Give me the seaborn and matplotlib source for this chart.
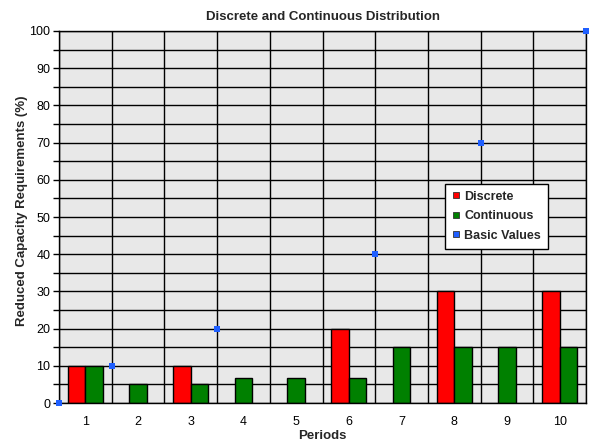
import numpy as np
import pandas as pd
import matplotlib
matplotlib.use("Agg")
from matplotlib import pyplot as plt
from matplotlib.lines import Line2D
import seaborn as sns

periods = [1, 2, 3, 4, 5, 6, 7, 8, 9, 10]
discrete = [10, 0, 10, 0, 0, 20, 0, 30, 0, 30]
continuous = [10, 5, 5, 6.67, 6.67, 6.67, 15, 15, 15, 15]
basic_x = [0.5, 1.5, 3.5, 6.5, 8.5, 10.5]
basic_y = [0, 10, 20, 40, 70, 100]

# zero bars are left out, the remaining bars of a period sit side by side around its centre
rows = []
for p, d, c in zip(periods, discrete, continuous):
    present = [(s, v) for s, v in (("Discrete", d), ("Continuous", c)) if v > 0]
    n = len(present)
    for i, (s, v) in enumerate(present):
        rows.append({"pos": round(p + (i - (n - 1) / 2) / 3, 6), "value": v, "series": s})
df = pd.DataFrame(rows)

sns.set_style("white")
plt.rcParams['font.family'] = ['Liberation Sans', 'DejaVu Sans']

fig = plt.figure(figsize=(5.97, 4.48), dpi=100)
ax = fig.add_axes([59 / 597, 45 / 448, 527 / 597, 372 / 448])
ax.set_facecolor('#e8e8e8')

sns.barplot(data=df, x="pos", y="value", hue="series", native_scale=True, dodge=False,
            width=1.0, palette={"Discrete": "#ff0000", "Continuous": "#008000"},
            edgecolor="black", linewidth=1, saturation=1, errorbar=None, legend=False, ax=ax)
sns.scatterplot(x=basic_x, y=basic_y, marker='s', s=19, color='#1f5fff', linewidth=0,
                clip_on=False, zorder=5, ax=ax)

ax.set_xlim(0.5, 10.5)
ax.set_ylim(0, 100)
ax.set_xticks(periods)
ax.set_xticklabels([str(p) for p in periods])
ax.set_xticks(np.arange(0.5, 11, 1), minor=True)
ax.set_yticks(np.arange(0, 101, 10))
ax.set_yticks(np.arange(0, 101, 5), minor=True)
ax.set_axisbelow(True)
ax.grid(which='minor', axis='x', color='black', linewidth=1)
ax.grid(which='both', axis='y', color='black', linewidth=1)
ax.tick_params(axis='x', which='both', length=0, pad=9, labelsize=9, colors='black')
ax.tick_params(axis='y', which='both', length=4.3, width=1, direction='out', pad=2,
               labelsize=9, colors='black', left=True)
for sp in ax.spines.values():
    sp.set_color('black')
    sp.set_linewidth(1)

ax.set_title("Discrete and Continuous Distribution", fontsize=9.5, fontweight='bold', pad=8)
ax.set_xlabel("Periods", fontsize=9.5, fontweight='bold', labelpad=2)
ax.set_ylabel("Reduced Capacity Requirements (%)", fontsize=9.5, fontweight='bold')
ax.yaxis.set_label_coords(-0.059, 0.516)

handles = [Line2D([], [], marker='s', linestyle='none', markersize=4, markerfacecolor=c,
                  markeredgecolor='#333333', markeredgewidth=0.6)
           for c in ['#ff0000', '#008000', '#1f5fff']]
leg = ax.legend(handles, ["Discrete", "Continuous", "Basic Values"], loc='upper left',
                bbox_to_anchor=(0.7325, 0.589), borderaxespad=0, fancybox=False, framealpha=1,
                edgecolor='black', handlelength=0.6, handletextpad=0.4,
                labelspacing=0.6, borderpad=0.55, prop={'size': 9, 'weight': 'bold'})
leg.get_frame().set_linewidth(1)

fig.savefig("out.png", dpi=100)
